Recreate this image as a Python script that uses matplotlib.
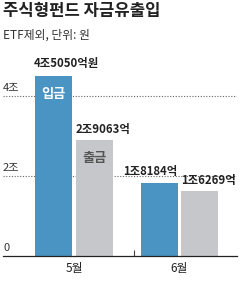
import matplotlib
matplotlib.use("Agg")
import matplotlib.pyplot as plt
import matplotlib.transforms as mtransforms

plt.rcParams['font.family'] = ['Noto Sans CJK KR', 'DejaVu Sans']

# 데이터 (단위: 조원)
months = ['5월', '6월']
inflow = [4.5050, 1.8184]
outflow = [2.9063, 1.6269]
inflow_labels = ['4조5050억원', '1조8184억']
outflow_labels = ['2조9063억', '1조6269억']
ytick_vals = [0, 2, 4]
ytick_labels = ['0', '2조', '4조']

blue = '#4a94c4'
grey = '#c5c7ca'

W, H = 240, 281
fig = plt.figure(figsize=(W / 100, H / 100), dpi=100)
# 축 영역: x 3~237px, 기준선 y=256px, 1조당 40px
ax = fig.add_axes([3 / W, (H - 256) / H, 234 / W, 192 / H])
ax.set_ylim(0, 4.8)
ax.set_xlim(-0.673, 1.545)

width = 0.351
off = 0.194
x = range(len(months))

# 점선 눈금선
for v in ytick_vals[1:]:
    ax.axhline(v, color='#666666', lw=0.8, ls=(0, (1, 1.5)), zorder=0)

b_in = ax.bar([i - off for i in x], inflow, width, color=blue, zorder=2)
b_out = ax.bar([i + off for i in x], outflow, width, color=grey, zorder=2)

# 값 라벨
aligns_in = ['left', 'right']
for rect, lab, ha in zip(b_in, inflow_labels, aligns_in):
    xx = rect.get_x() if ha == 'left' else rect.get_x() + rect.get_width()
    ax.annotate(lab, (xx, rect.get_height()), xytext=(-1 if ha == 'left' else 0, 4),
                textcoords='offset points', ha=ha, va='bottom',
                fontsize=8.2, fontweight='bold', color='#222222')
for rect, lab in zip(b_out, outflow_labels):
    ax.annotate(lab, (rect.get_x(), rect.get_height()), xytext=(0, 3),
                textcoords='offset points', ha='left', va='bottom',
                fontsize=8.2, fontweight='bold', color='#222222')

# 막대 안 라벨
r0 = b_in[0]
ax.annotate('입금', (r0.get_x() + r0.get_width() / 2, r0.get_height()), xytext=(0, -8),
            textcoords='offset points', ha='center', va='top',
            fontsize=9.5, fontweight='bold', color='white', zorder=3)
r1 = b_out[0]
ax.annotate('출금', (r1.get_x() + r1.get_width() / 2, r1.get_height()), xytext=(0, -8),
            textcoords='offset points', ha='center', va='top',
            fontsize=9.5, fontweight='bold', color='#555555', zorder=3)

# y축 라벨 (선 위 왼쪽)
trans = mtransforms.blended_transform_factory(ax.transAxes, ax.transData)
for v, lab in zip(ytick_vals, ytick_labels):
    ax.annotate(lab, (0, v), xycoords=trans, xytext=(0, 2), textcoords='offset points',
                ha='left', va='bottom', fontsize=8, color='#333333')

for s in ['top', 'right', 'left']:
    ax.spines[s].set_visible(False)
ax.spines['bottom'].set_color('#222222')
ax.spines['bottom'].set_linewidth(0.9)
ax.set_yticks([])
ax.set_xticks(list(x))
ax.set_xticklabels(months, fontsize=8.5, color='#222222')
ax.tick_params(axis='x', which='major', length=0, pad=4)
ax.set_xticks([0.569], minor=True)
ax.tick_params(axis='x', which='minor', direction='in', length=4, width=0.8, color='#444444')

fig.text(3 / W, 1 - 2 / H, '주식형펀드 자금유출입', ha='left', va='top',
         fontsize=12, fontweight='bold', color='#222222')
fig.text(3 / W, 1 - 29 / H, 'ETF제외, 단위: 원', ha='left', va='top',
         fontsize=8.5, color='#333333')

fig.savefig('out.png', dpi=100)
